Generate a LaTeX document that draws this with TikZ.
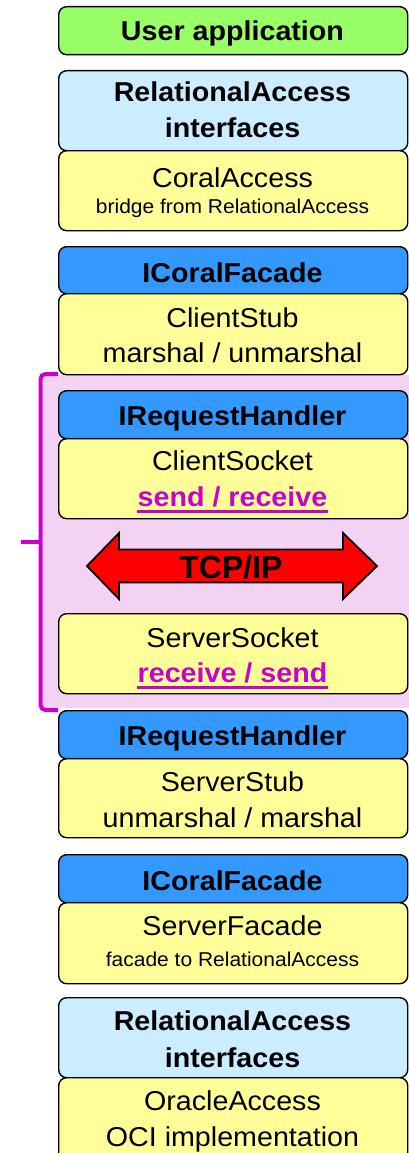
\documentclass[tikz,border=0pt]{standalone}
\usepackage{fontspec}
\setmainfont[FakeStretch=1.05]{Liberation Sans}
\newfontfamily\tcpfont{Liberation Sans}
\definecolor{ugreen}{HTML}{99FF66}
\definecolor{lblue}{HTML}{CCECFF}
\definecolor{uyellow}{HTML}{FFFF99}
\definecolor{ublue}{HTML}{3399FF}
\definecolor{umag}{HTML}{CC00CC}
\definecolor{upink}{RGB}{244,210,244}
\tikzset{
  box/.style={draw=black, line width=1.4pt, rounded corners=8pt, minimum width=349pt, inner sep=0pt, anchor=north west},
  txt/.style={anchor=base, inner sep=0pt, font=\fontsize{27.3}{30}\selectfont},
  btxt/.style={txt, font=\fontsize{27.3}{30}\selectfont\bfseries},
  stxt/.style={anchor=base, inner sep=0pt, font=\fontsize{20}{22}\selectfont},
  mtxt/.style={btxt, text=umag},
  ulin/.style={umag, line width=2.6pt},
  brace/.style={umag, line width=4pt, rounded corners=5pt},
}
\begin{document}
\begin{tikzpicture}[x=1pt,y=-1pt]
\useasboundingbox (0,0) rectangle (409,1153);
\begin{scope}
\clip (0,0) rectangle (409,1153);
% pink region
\fill[upink] (43,375) rectangle (409,708);
% brace
\draw[brace] (58,374) -- (40.5,374) -- (40.5,710) -- (58,710);
\draw[brace] (40.5,542) -- (21,542);
% boxes
\node[box, fill=ugreen, minimum height=48pt] (ua) at (58,6) {};
\node[box, fill=lblue, minimum height=80pt] (ra1) at (58,70) {};
\node[box, fill=uyellow, minimum height=80pt] (ca) at (58,150) {};
\node[box, fill=ublue, minimum height=47pt] (icf1) at (58,246) {};
\node[box, fill=uyellow, minimum height=81pt] (cstub) at (58,293) {};
\node[box, fill=ublue, minimum height=48pt] (irh1) at (58,390) {};
\node[box, fill=uyellow, minimum height=80pt] (csock) at (58,438) {};
\node[box, fill=uyellow, minimum height=80pt] (ssock) at (58,613) {};
\node[box, fill=ublue, minimum height=48pt] (irh2) at (58,710) {};
\node[box, fill=uyellow, minimum height=79pt] (sstub) at (58,758) {};
\node[box, fill=ublue, minimum height=48pt] (icf2) at (58,854) {};
\node[box, fill=uyellow, minimum height=81pt] (sfac) at (58,902) {};
\node[box, fill=lblue, minimum height=80pt] (ra2) at (58,997) {};
\node[box, fill=uyellow, minimum height=90pt] (oa) at (58,1077) {};
% TCP/IP arrow
\draw[fill=red, line width=1.8pt, line join=miter]
  (87,566) -- (119,533) -- (119,549.5) -- (343,549.5) -- (343,533) -- (377,566)
  -- (343,599) -- (343,582.5) -- (119,582.5) -- (119,599) -- cycle;
\node[anchor=base, inner sep=0pt, font=\fontsize{32}{36}\selectfont\tcpfont\bfseries] (tcp) at (231,578) {TCP/IP};
% texts
\node[btxt] (t1) at (232.5,41) {User application};
\node[btxt] (t2a) at (232.5,102) {RelationalAccess};
\node[btxt] (t2b) at (232.5,138) {interfaces};
\node[txt] (t3a) at (232.5,187) {CoralAccess};
\node[stxt] (t3b) at (232.5,213) {bridge from RelationalAccess};
\node[btxt] (t4) at (232.5,282) {ICoralFacade};
\node[txt] (t5a) at (232.5,327) {ClientStub};
\node[txt] (t5b) at (232.5,362) {marshal / unmarshal};
\node[btxt] (t6) at (232.5,425) {IRequestHandler};
\node[txt] (t7a) at (232.5,470) {ClientSocket};
\node[mtxt] (t7b) at (232.5,506) {send / receive};
\draw[ulin] ([yshift=-5.5pt]t7b.base west) -- ([yshift=-5.5pt]t7b.base east);
\node[txt] (t8a) at (232.5,647) {ServerSocket};
\node[mtxt] (t8b) at (232.5,682) {receive / send};
\draw[ulin] ([yshift=-5.5pt]t8b.base west) -- ([yshift=-5.5pt]t8b.base east);
\node[btxt] (t9) at (232.5,745) {IRequestHandler};
\node[txt] (t10a) at (232.5,791) {ServerStub};
\node[txt] (t10b) at (232.5,827) {unmarshal / marshal};
\node[btxt] (t11) at (232.5,890) {ICoralFacade};
\node[txt] (t12a) at (232.5,935) {ServerFacade};
\node[stxt] (t12b) at (232.5,966) {facade to RelationalAccess};
\node[btxt] (t13a) at (232.5,1030) {RelationalAccess};
\node[btxt] (t13b) at (232.5,1067) {interfaces};
\node[txt] (t14a) at (232.5,1110) {OracleAccess};
\node[txt] (t14b) at (232.5,1146) {OCI implementation};
\end{scope}
\end{tikzpicture}
\end{document}
